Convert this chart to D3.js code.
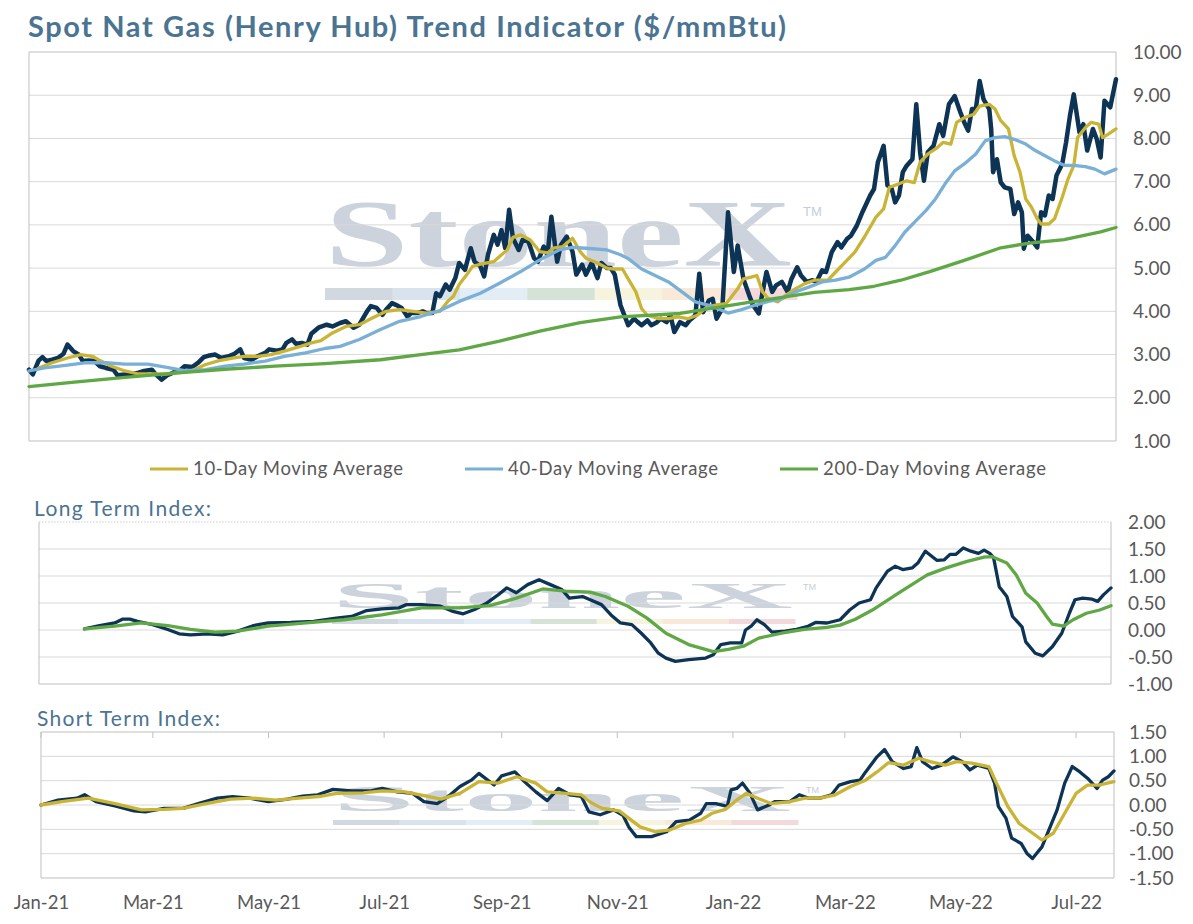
<!DOCTYPE html>
<html>
<head>
<meta charset="utf-8">
<title>Spot Nat Gas (Henry Hub) Trend Indicator</title>
<script src="https://cdn.jsdelivr.net/npm/d3@7"></script>
<style>
  body { margin: 0; background: #fff; }
  svg text { font-family: Lato, "Open Sans", sans-serif; }
</style>
</head>
<body>
<div id="chart"></div>
<script>
// every series is [day, value], day counted from 1 Jan 2021
const startDate = new Date(2021, 0, 1);
const endDate = new Date(2022, 6, 21);

const spot = [[0,2.65],[2,2.54],[5,2.86],[7,2.94],[9,2.85],[12,2.88],[15,2.92],[18,3.02],[20,3.23],[23,3.08],[26,3.0],[28,2.85],[31,2.86],[34,2.85],[37,2.73],[40,2.69],[44,2.65],[46,2.52],[50,2.54],[53,2.54],[57,2.58],[60,2.62],[64,2.65],[66,2.54],[69,2.42],[72,2.52],[75,2.58],[79,2.65],[81,2.73],[85,2.71],[88,2.81],[91,2.94],[94,2.98],[97,3.0],[100,2.92],[104,2.96],[107,3.02],[110,3.12],[112,2.92],[116,2.88],[119,2.96],[123,3.04],[125,3.12],[129,3.09],[132,3.12],[134,3.27],[137,3.35],[139,3.25],[142,3.27],[145,3.23],[147,3.48],[151,3.63],[155,3.69],[158,3.65],[162,3.73],[165,3.77],[169,3.62],[172,3.69],[176,4.0],[178,4.12],[181,4.08],[184,3.92],[186,4.04],[189,4.19],[191,4.15],[194,4.08],[197,3.88],[199,3.96],[202,3.96],[205,4.0],[207,3.96],[210,3.96],[212,4.42],[214,4.35],[217,4.62],[219,4.5],[222,4.77],[224,5.12],[227,4.96],[230,5.46],[232,5.15],[235,5.04],[237,4.81],[239,5.31],[242,5.77],[244,5.54],[246,5.88],[248,5.46],[250,6.35],[252,5.69],[255,5.42],[257,5.65],[260,5.62],[263,5.23],[265,5.15],[268,5.5],[270,5.31],[272,6.19],[275,5.15],[277,5.54],[280,5.73],[283,5.38],[285,4.85],[288,5.08],[290,4.85],[293,5.12],[296,4.77],[298,5.12],[301,5.0],[303,5.0],[305,4.85],[308,4.14],[310,3.91],[312,3.68],[315,3.83],[317,3.75],[319,3.68],[322,3.79],[324,3.68],[327,3.75],[329,3.83],[332,3.75],[334,3.91],[336,3.52],[339,3.75],[342,3.68],[344,3.79],[347,3.91],[349,4.87],[351,3.98],[354,4.25],[356,4.29],[358,3.83],[361,4.06],[364,6.29],[367,4.91],[369,5.52],[372,4.75],[375,4.37],[377,4.14],[380,3.95],[382,4.45],[384,4.91],[387,4.45],[389,4.6],[392,4.68],[395,4.45],[397,4.75],[400,5.02],[402,4.83],[405,4.68],[408,4.72],[410,4.68],[413,4.95],[415,4.91],[418,5.37],[421,5.6],[423,5.48],[426,5.68],[428,5.75],[431,5.98],[434,6.3],[438,6.68],[440,6.83],[442,7.45],[445,7.83],[447,6.91],[449,6.87],[451,6.52],[453,6.68],[455,7.22],[457,7.37],[460,7.52],[462,8.79],[464,7.68],[466,7.02],[468,7.68],[471,7.83],[474,8.33],[476,8.06],[479,8.79],[482,8.98],[485,8.6],[487,8.37],[489,8.18],[491,8.68],[493,8.68],[495,9.33],[497,8.91],[500,8.68],[501,8.22],[502,7.22],[504,7.52],[506,6.98],[508,6.87],[511,6.83],[513,6.25],[515,6.52],[517,6.29],[518,5.45],[520,5.75],[523,5.6],[525,5.48],[527,6.29],[529,6.22],[531,6.68],[533,6.6],[535,7.14],[538,7.41],[540,7.91],[542,8.52],[544,9.02],[547,8.14],[549,8.33],[551,7.72],[554,8.22],[556,7.98],[558,7.56],[560,8.87],[563,8.72],[566,9.37]];

const ma10 = [[5,2.69],[12,2.81],[20,2.92],[27,3.0],[33,2.96],[37,2.86],[43,2.73],[50,2.62],[57,2.55],[64,2.55],[71,2.55],[78,2.58],[85,2.63],[92,2.77],[99,2.86],[106,2.92],[112,2.96],[119,2.96],[126,3.0],[133,3.08],[140,3.17],[147,3.27],[152,3.32],[158,3.5],[165,3.65],[172,3.69],[179,3.85],[186,4.0],[193,4.04],[200,4.0],[207,3.96],[214,4.0],[218,4.23],[221,4.35],[224,4.62],[228,4.85],[231,5.04],[235,5.09],[242,5.15],[245,5.27],[249,5.42],[252,5.71],[256,5.77],[261,5.65],[266,5.38],[270,5.35],[273,5.46],[278,5.5],[283,5.69],[287,5.38],[290,5.23],[296,5.12],[301,5.0],[304,4.98],[309,4.98],[312,4.75],[316,4.45],[319,4.06],[322,3.91],[328,3.83],[333,3.83],[338,3.87],[343,3.83],[348,3.91],[353,4.1],[358,4.15],[363,4.18],[365,4.29],[369,4.52],[372,4.75],[376,4.79],[379,4.83],[382,4.45],[385,4.29],[390,4.22],[394,4.37],[399,4.52],[404,4.64],[409,4.72],[416,4.72],[420,4.91],[425,5.14],[430,5.37],[435,5.72],[441,6.18],[445,6.37],[448,6.87],[453,6.95],[457,7.02],[461,6.98],[464,7.45],[468,7.64],[473,7.79],[476,7.91],[480,7.87],[483,8.37],[487,8.48],[492,8.56],[495,8.75],[500,8.79],[503,8.68],[506,8.41],[510,8.22],[513,7.6],[516,7.22],[519,6.6],[522,6.41],[525,6.14],[527,6.02],[531,6.02],[534,6.14],[538,6.64],[541,7.06],[544,7.37],[546,8.02],[550,8.25],[553,8.37],[557,8.33],[559,8.02],[562,8.1],[566,8.22]];

const ma40 = [[0,2.62],[8,2.69],[19,2.75],[29,2.81],[40,2.81],[50,2.78],[62,2.78],[71,2.71],[81,2.63],[92,2.65],[102,2.73],[112,2.78],[123,2.85],[133,2.96],[144,3.04],[154,3.14],[162,3.19],[172,3.35],[183,3.58],[193,3.77],[204,3.88],[214,4.02],[224,4.23],[235,4.42],[245,4.65],[256,4.92],[266,5.19],[276,5.42],[283,5.48],[290,5.46],[301,5.42],[308,5.31],[312,5.22],[319,4.98],[326,4.83],[333,4.68],[340,4.45],[347,4.22],[354,4.14],[361,4.02],[364,3.96],[371,4.04],[378,4.14],[385,4.23],[392,4.29],[399,4.45],[406,4.56],[413,4.68],[420,4.72],[427,4.79],[435,4.98],[441,5.18],[446,5.25],[451,5.52],[456,5.83],[461,6.06],[467,6.33],[472,6.6],[477,6.95],[482,7.25],[487,7.41],[493,7.64],[498,7.95],[503,8.02],[508,8.04],[513,7.98],[519,7.87],[524,7.72],[529,7.6],[534,7.48],[539,7.38],[545,7.37],[550,7.35],[555,7.29],[560,7.18],[566,7.29]];

const ma200 = [[0,2.26],[25,2.37],[50,2.47],[76,2.57],[102,2.66],[128,2.73],[154,2.79],[183,2.88],[204,3.0],[224,3.11],[245,3.31],[266,3.54],[287,3.74],[308,3.87],[339,3.95],[374,4.2],[409,4.44],[427,4.5],[440,4.58],[454,4.72],[469,4.92],[487,5.18],[506,5.47],[521,5.58],[539,5.66],[558,5.84],[566,5.94]];

const longIndex = [[24,0.02],[32,0.08],[40,0.13],[44,0.2],[48,0.2],[52,0.16],[60,0.1],[68,0.01],[74,-0.07],[80,-0.09],[89,-0.07],[97,-0.09],[105,-0.02],[113,0.08],[121,0.13],[133,0.14],[145,0.16],[157,0.22],[165,0.25],[173,0.36],[181,0.39],[190,0.41],[194,0.47],[202,0.47],[212,0.44],[218,0.35],[224,0.3],[230,0.38],[236,0.49],[242,0.64],[247,0.78],[252,0.69],[258,0.84],[264,0.93],[270,0.84],[276,0.75],[280,0.59],[287,0.62],[291,0.56],[297,0.47],[302,0.28],[307,0.13],[313,0.1],[318,-0.06],[323,-0.24],[327,-0.43],[331,-0.52],[336,-0.58],[343,-0.55],[352,-0.52],[356,-0.46],[360,-0.27],[365,-0.24],[371,-0.24],[373,0.0],[376,0.07],[379,0.19],[383,0.1],[387,-0.04],[394,-0.02],[400,0.01],[406,0.07],[410,0.14],[416,0.13],[423,0.19],[428,0.37],[433,0.5],[439,0.56],[442,0.78],[448,1.09],[452,1.18],[456,1.12],[461,1.15],[464,1.24],[468,1.46],[474,1.29],[478,1.3],[481,1.4],[484,1.4],[488,1.52],[492,1.46],[496,1.42],[499,1.48],[502,1.42],[504,1.34],[507,0.8],[511,0.62],[514,0.25],[519,0.06],[521,-0.22],[526,-0.43],[530,-0.48],[535,-0.31],[540,-0.06],[544,0.31],[547,0.56],[551,0.59],[556,0.57],[559,0.53],[562,0.65],[566,0.78]];

const longSignal = [[24,0.02],[40,0.07],[54,0.13],[68,0.08],[80,0.01],[93,-0.04],[105,-0.02],[121,0.07],[141,0.13],[161,0.19],[181,0.28],[202,0.41],[222,0.41],[238,0.45],[252,0.59],[266,0.76],[278,0.72],[291,0.7],[299,0.62],[311,0.44],[321,0.22],[331,-0.06],[343,-0.27],[356,-0.4],[364,-0.36],[372,-0.3],[380,-0.15],[392,-0.06],[404,0.01],[416,0.05],[423,0.09],[431,0.2],[440,0.37],[455,0.71],[469,1.02],[479,1.15],[490,1.27],[499,1.35],[503,1.36],[511,1.24],[516,1.02],[521,0.68],[527,0.5],[532,0.25],[535,0.11],[541,0.07],[546,0.19],[553,0.31],[560,0.37],[566,0.45]];

const shortIndex = [[0,0],[9,0.1],[19,0.14],[23,0.21],[29,0.07],[39,-0.02],[49,-0.12],[55,-0.14],[65,-0.07],[75,-0.07],[83,0.03],[93,0.14],[101,0.17],[110,0.14],[120,0.07],[130,0.12],[138,0.18],[146,0.21],[154,0.32],[164,0.29],[174,0.29],[180,0.34],[188,0.27],[196,0.24],[202,0.07],[209,0.03],[215,0.18],[221,0.38],[227,0.51],[231,0.65],[239,0.41],[243,0.6],[250,0.68],[255,0.48],[261,0.27],[267,0.09],[273,0.34],[279,0.21],[285,0.18],[289,-0.14],[295,-0.2],[302,-0.1],[307,-0.21],[310,-0.45],[314,-0.65],[322,-0.65],[330,-0.55],[335,-0.34],[342,-0.31],[348,-0.17],[351,0.03],[356,0.03],[362,-0.03],[364,0.31],[367,0.34],[370,0.45],[374,0.24],[378,-0.1],[384,0],[387,0.07],[395,0.07],[400,0.21],[405,0.14],[411,0.14],[417,0.21],[421,0.41],[427,0.48],[432,0.51],[435,0.68],[441,0.99],[445,1.14],[449,0.89],[455,0.75],[459,0.79],[462,1.18],[465,0.89],[470,0.75],[475,0.82],[481,0.99],[486,0.89],[490,0.72],[494,0.82],[500,0.75],[503,0.45],[505,-0.03],[509,-0.27],[512,-0.68],[517,-0.79],[520,-0.99],[523,-1.1],[528,-0.86],[532,-0.48],[536,-0.1],[540,0.45],[544,0.79],[548,0.68],[552,0.55],[557,0.34],[560,0.51],[563,0.58],[566,0.7]];

const shortSignal = [[0,0],[11,0.07],[25,0.14],[39,0.03],[53,-0.1],[65,-0.09],[75,-0.07],[87,0.03],[100,0.12],[112,0.14],[124,0.1],[136,0.14],[148,0.18],[156,0.24],[170,0.25],[180,0.29],[192,0.27],[200,0.21],[211,0.12],[221,0.24],[231,0.48],[241,0.45],[251,0.58],[261,0.45],[267,0.27],[277,0.24],[285,0.21],[290,0.05],[296,-0.07],[305,-0.12],[310,-0.27],[316,-0.45],[324,-0.55],[332,-0.51],[340,-0.38],[348,-0.31],[354,-0.17],[361,-0.09],[367,0.1],[372,0.24],[378,0.14],[385,0.03],[395,0.07],[403,0.14],[411,0.14],[419,0.21],[427,0.38],[435,0.51],[441,0.68],[447,0.87],[455,0.82],[463,0.96],[469,0.89],[477,0.82],[483,0.89],[491,0.86],[500,0.79],[504,0.45],[510,-0.03],[516,-0.38],[522,-0.55],[528,-0.72],[534,-0.58],[540,-0.17],[546,0.24],[552,0.41],[558,0.41],[566,0.48]];

const priceTicks = [1, 2, 3, 4, 5, 6, 7, 8, 9, 10];
const longTicks = [-1, -0.5, 0, 0.5, 1, 1.5, 2];
const shortTicks = [-1.5, -1, -0.5, 0, 0.5, 1, 1.5];
const monthTicks = ["2021-01-01", "2021-03-01", "2021-05-01", "2021-07-01", "2021-09-01",
                    "2021-11-01", "2022-01-01", "2022-03-01", "2022-05-01", "2022-07-01"];
const legendLabels = ["10-Day Moving Average", "40-Day Moving Average", "200-Day Moving Average"];

// colours
const navy = "#0d3355", gold = "#c9b436", sky = "#7aafd6", leaf = "#5fa845";
const titleBlue = "#4b7392", axisGrey = "#595959", gridGrey = "#d9d9d9", borderGrey = "#bfbfbf";
const barColours = ["#d2d8e0", "#d9e3ed", "#e3edf6", "#d5e3d7", "#f6f4de", "#f9e9d8", "#f3d9dc"];

const width = 1193, height = 924;
const svg = d3.select("#chart").append("svg")
    .attr("width", width)
    .attr("height", height);

const parseDay = d3.timeParse("%Y-%m-%d");
const toPoints = arr => arr.map(d => ({ date: d3.timeDay.offset(startDate, d[0]), value: d[1] }));

// stretch a label to the width it has in the original
function fitText(sel, w) {
    sel.attr("textLength", w).attr("lengthAdjust", "spacing");
}

function makePanel(box, yDomain) {
    const x = d3.scaleTime().domain([startDate, endDate]).range([box.left, box.right]);
    const y = d3.scaleLinear().domain(yDomain).range([box.bottom, box.top]);
    return { box, x, y, g: svg.append("g") };
}

function drawWatermark(p, o) {
    const w = p.g.append("g");
    w.append("text")
        .text("StoneX")
        .attr("x", o.x)
        .attr("y", o.y)
        .attr("textLength", o.w)
        .attr("lengthAdjust", "spacingAndGlyphs")
        .attr("fill", "#ccd3dc")
        .style("font-family", "'Liberation Serif', 'DejaVu Serif', serif")
        .style("font-weight", "bold")
        .style("font-size", o.size + "px");
    w.append("text")
        .text("TM")
        .attr("x", o.tmX)
        .attr("y", o.tmY)
        .attr("fill", "#c6ced8")
        .style("font-family", "'Liberation Sans', sans-serif")
        .style("font-size", o.tmSize + "px");
    const segW = o.barW / barColours.length;
    w.selectAll("rect.seg").data(barColours).enter().append("rect")
        .attr("class", "seg")
        .attr("x", (d, i) => o.x + i * segW)
        .attr("y", o.barY)
        .attr("width", segW + 0.5)
        .attr("height", o.barH)
        .attr("fill", d => d);
}

function drawFrame(p, ticks, gap, dottedTop) {
    const { box, y, g } = p;
    g.selectAll("line.grid").data(ticks.slice(1, -1)).enter().append("line")
        .attr("class", "grid")
        .attr("x1", box.left).attr("x2", box.right)
        .attr("y1", d => y(d)).attr("y2", d => y(d))
        .attr("stroke", gridGrey);
    const edges = [
        [box.left, box.bottom, box.right, box.bottom],
        [box.left, box.top, box.left, box.bottom],
        [box.right, box.top, box.right, box.bottom],
        [box.left, box.top, box.right, box.top]
    ];
    edges.forEach((e, i) => {
        const l = g.append("line")
            .attr("x1", e[0]).attr("y1", e[1]).attr("x2", e[2]).attr("y2", e[3])
            .attr("stroke", i === 3 && dottedTop ? "#cfcfcf" : borderGrey);
        if (i === 3 && dottedTop) l.attr("stroke-dasharray", "1.5,1.5");
    });
    g.append("g")
        .attr("transform", "translate(" + box.right + ",0)")
        .call(d3.axisRight(y).tickValues(ticks).tickSize(0).tickPadding(gap)
            .tickFormat(d => d.toFixed(2)))
        .call(a => a.select(".domain").remove())
        .selectAll("text")
        .attr("fill", axisGrey)
        .style("font-size", "19px");
}

function drawLine(p, data, colour, w) {
    const line = d3.line()
        .x(d => p.x(d.date))
        .y(d => p.y(d.value));
    p.g.append("path")
        .datum(toPoints(data))
        .attr("d", line)
        .attr("fill", "none")
        .attr("stroke", colour)
        .attr("stroke-width", w)
        .attr("stroke-linejoin", "round")
        .attr("stroke-linecap", "round");
}

// ---- main price panel
svg.append("text")
    .text("Spot Nat Gas (Henry Hub) Trend Indicator ($/mmBtu)")
    .attr("x", 28).attr("y", 37)
    .attr("fill", titleBlue)
    .style("font-size", "29px")
    .style("font-weight", "bold")
    .call(fitText, 758);

const main = makePanel({ left: 29, right: 1116, top: 52, bottom: 441 }, [1, 10]);
drawWatermark(main, { x: 325, y: 266, w: 467, size: 96, tmX: 803, tmY: 216, tmSize: 13, barY: 288, barH: 12, barW: 472 });
drawFrame(main, priceTicks, 17, false);
drawLine(main, spot, navy, 4.5);
drawLine(main, ma10, gold, 3.3);
drawLine(main, ma40, sky, 3.3);
drawLine(main, ma200, leaf, 3.3);

// legend
const legendX = [150, 465, 780];
const legendColours = [gold, sky, leaf];
const legendWidths = [210, 210, 223];
const legend = svg.append("g");
legendLabels.forEach((label, i) => {
    legend.append("line")
        .attr("x1", legendX[i]).attr("x2", legendX[i] + 38)
        .attr("y1", 469).attr("y2", 469)
        .attr("stroke", legendColours[i]).attr("stroke-width", 3);
    legend.append("text")
        .text(label)
        .attr("x", legendX[i] + 43).attr("y", 475)
        .attr("fill", axisGrey)
        .style("font-size", "18.5px")
        .call(fitText, legendWidths[i]);
});

// ---- long term index panel
svg.append("text")
    .text("Long Term Index:")
    .attr("x", 34).attr("y", 516)
    .attr("fill", titleBlue)
    .style("font-size", "21px")
    .call(fitText, 177);

const longP = makePanel({ left: 39, right: 1111, top: 522, bottom: 684 }, [-1, 2]);
drawWatermark(longP, { x: 332, y: 608, w: 461, size: 36, tmX: 803, tmY: 590, tmSize: 9, barY: 619, barH: 5, barW: 463 });
drawFrame(longP, longTicks, 17, true);
drawLine(longP, longIndex, navy, 3.3);
drawLine(longP, longSignal, leaf, 3.3);

// ---- short term index panel
svg.append("text")
    .text("Short Term Index:")
    .attr("x", 37).attr("y", 726)
    .attr("fill", titleBlue)
    .style("font-size", "21px")
    .call(fitText, 183);

const shortP = makePanel({ left: 41, right: 1114, top: 732, bottom: 878 }, [-1.5, 1.5]);
drawWatermark(shortP, { x: 333, y: 811, w: 458, size: 36, tmX: 806, tmY: 793, tmSize: 9, barY: 820, barH: 5, barW: 465 });
drawFrame(shortP, shortTicks, 15, false);

const tickDates = monthTicks.map(parseDay);
shortP.g.selectAll("line.mtick").data(tickDates).enter().append("line")
    .attr("class", "mtick")
    .attr("x1", d => shortP.x(d)).attr("x2", d => shortP.x(d))
    .attr("y1", shortP.box.top).attr("y2", shortP.box.top + 6)
    .attr("stroke", borderGrey);

shortP.g.append("g")
    .attr("transform", "translate(0," + shortP.box.bottom + ")")
    .call(d3.axisBottom(shortP.x).tickValues(tickDates).tickSize(0).tickPadding(18)
        .tickFormat(d3.timeFormat("%b-%y")))
    .call(a => a.select(".domain").remove())
    .selectAll("text")
    .attr("fill", axisGrey)
    .style("font-size", "18.5px");

drawLine(shortP, shortIndex, navy, 3.3);
drawLine(shortP, shortSignal, gold, 3.3);
</script>
</body>
</html>
